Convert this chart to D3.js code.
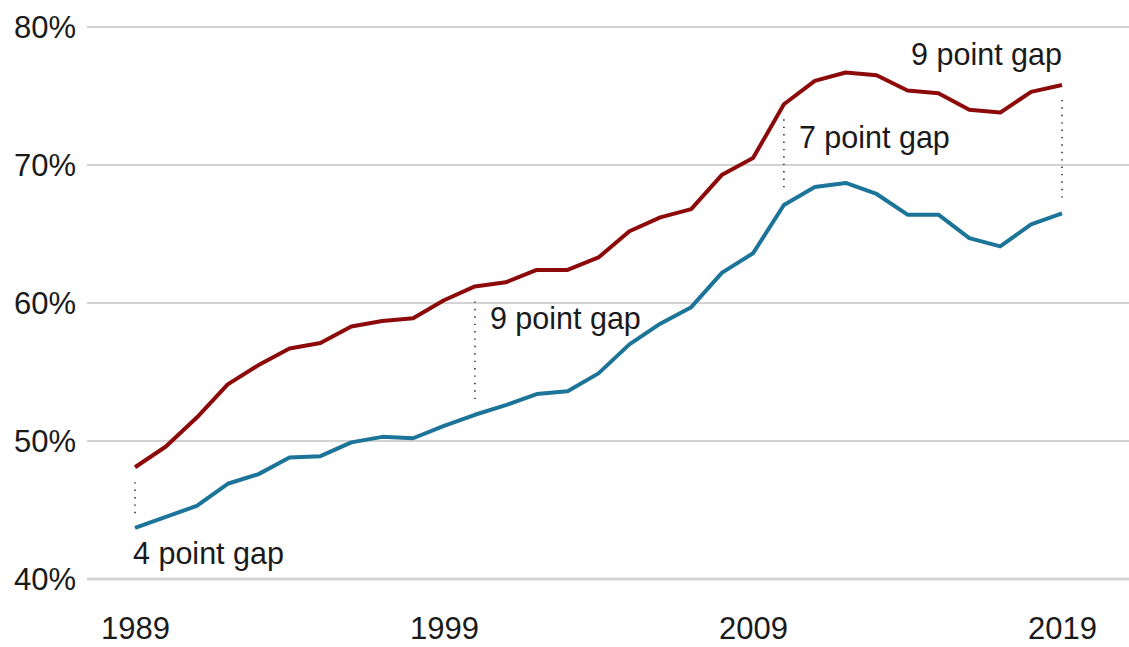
<!DOCTYPE html>
<html>
<head>
<meta charset="utf-8">
<script src="https://cdn.jsdelivr.net/npm/d3@7"></script>
<style>
  html, body { margin: 0; padding: 0; background: #fff; }
  text { font-family: "Liberation Sans", Arial, sans-serif; fill: #1a1a1a; }
</style>
</head>
<body>
<svg id="chart" width="1129" height="647"></svg>
<script>
// data
const years = d3.range(1989, 2020)
const redValues = [48.1, 49.6, 51.7, 54.1, 55.5, 56.7, 57.1, 58.3, 58.7, 58.9,
                   60.2, 61.2, 61.5, 62.4, 62.4, 63.3, 65.2, 66.2, 66.8, 69.3,
                   70.5, 74.4, 76.1, 76.7, 76.5, 75.4, 75.2, 74.0, 73.8, 75.3, 75.8]
const blueValues = [43.7, 44.5, 45.3, 46.9, 47.6, 48.8, 48.9, 49.9, 50.3, 50.2,
                    51.1, 51.9, 52.6, 53.4, 53.6, 54.9, 57.0, 58.5, 59.7, 62.2,
                    63.6, 67.1, 68.4, 68.7, 67.9, 66.4, 66.4, 64.7, 64.1, 65.7, 66.5]
const yTicks = [40, 50, 60, 70, 80]
const xTicks = [1989, 1999, 2009, 2019]
const gaps = [
  { year: 1989, label: "4 point gap" },
  { year: 2000, label: "9 point gap" },
  { year: 2010, label: "7 point gap" },
  { year: 2019, label: "9 point gap" }
]

const svg = d3.select("#chart")

const x = d3.scaleLinear().domain([1989, 2019]).range([135, 1062])
const y = d3.scaleLinear().domain([40, 80]).range([579, 27])

// gridlines
svg.append("g").selectAll("line")
  .data(yTicks)
  .join("line")
  .attr("x1", 87).attr("x2", 1129)
  .attr("y1", d => y(d)).attr("y2", d => y(d))
  .attr("stroke", d => d === 40 ? "#d6d6d6" : "#c4c4c4")
  .attr("stroke-width", d => d === 40 ? 3 : 1.3)

// y labels
svg.append("g").selectAll("text")
  .data(yTicks)
  .join("text")
  .attr("x", 76)
  .attr("y", d => y(d) + 11)
  .attr("text-anchor", "end")
  .attr("font-size", "31px")
  .text(d => d + "%")

// x labels
const xAxis = d3.axisBottom(x).tickValues(xTicks).tickFormat(d3.format("d")).tickSize(0)
const gx = svg.append("g").attr("transform", "translate(0,610)").call(xAxis)
gx.select(".domain").remove()
gx.selectAll("text")
  .attr("font-size", "31px")
  .attr("font-family", "'Liberation Sans', Arial, sans-serif")
  .attr("fill", "#1a1a1a")
  .attr("dy", null)
  .attr("y", 29)

// gap dotted lines
const idx = yr => years.indexOf(yr)
svg.append("g").selectAll("line")
  .data(gaps)
  .join("line")
  .attr("x1", d => x(d.year)).attr("x2", d => x(d.year))
  .attr("y1", d => y(redValues[idx(d.year)]) + 15)
  .attr("y2", d => y(blueValues[idx(d.year)]) - 12)
  .attr("stroke", "#333")
  .attr("stroke-width", 1.6)
  .attr("stroke-dasharray", "1.4,6")

// lines
const line = d3.line()
  .x((d, i) => x(years[i]))
  .y(d => y(d))

svg.append("path")
  .attr("d", line(blueValues))
  .attr("fill", "none")
  .attr("stroke", "#1d7499")
  .attr("stroke-width", 4)
  .attr("stroke-linejoin", "round")

svg.append("path")
  .attr("d", line(redValues))
  .attr("fill", "none")
  .attr("stroke", "#8c0a0a")
  .attr("stroke-width", 4)
  .attr("stroke-linejoin", "round")

// gap labels
svg.append("text")
  .attr("x", x(1989) - 2).attr("y", y(blueValues[0]) + 36)
  .attr("font-size", "30.5px").text(gaps[0].label)
svg.append("text")
  .attr("x", x(2000) + 15).attr("y", y(60) + 26)
  .attr("font-size", "30.5px").text(gaps[1].label)
svg.append("text")
  .attr("x", x(2010) + 15).attr("y", y(70) - 17)
  .attr("font-size", "30.5px").text(gaps[2].label)
svg.append("text")
  .attr("x", x(2019)).attr("y", y(redValues[30]) - 20)
  .attr("text-anchor", "end")
  .attr("font-size", "30.5px").text(gaps[3].label)
</script>
</body>
</html>
